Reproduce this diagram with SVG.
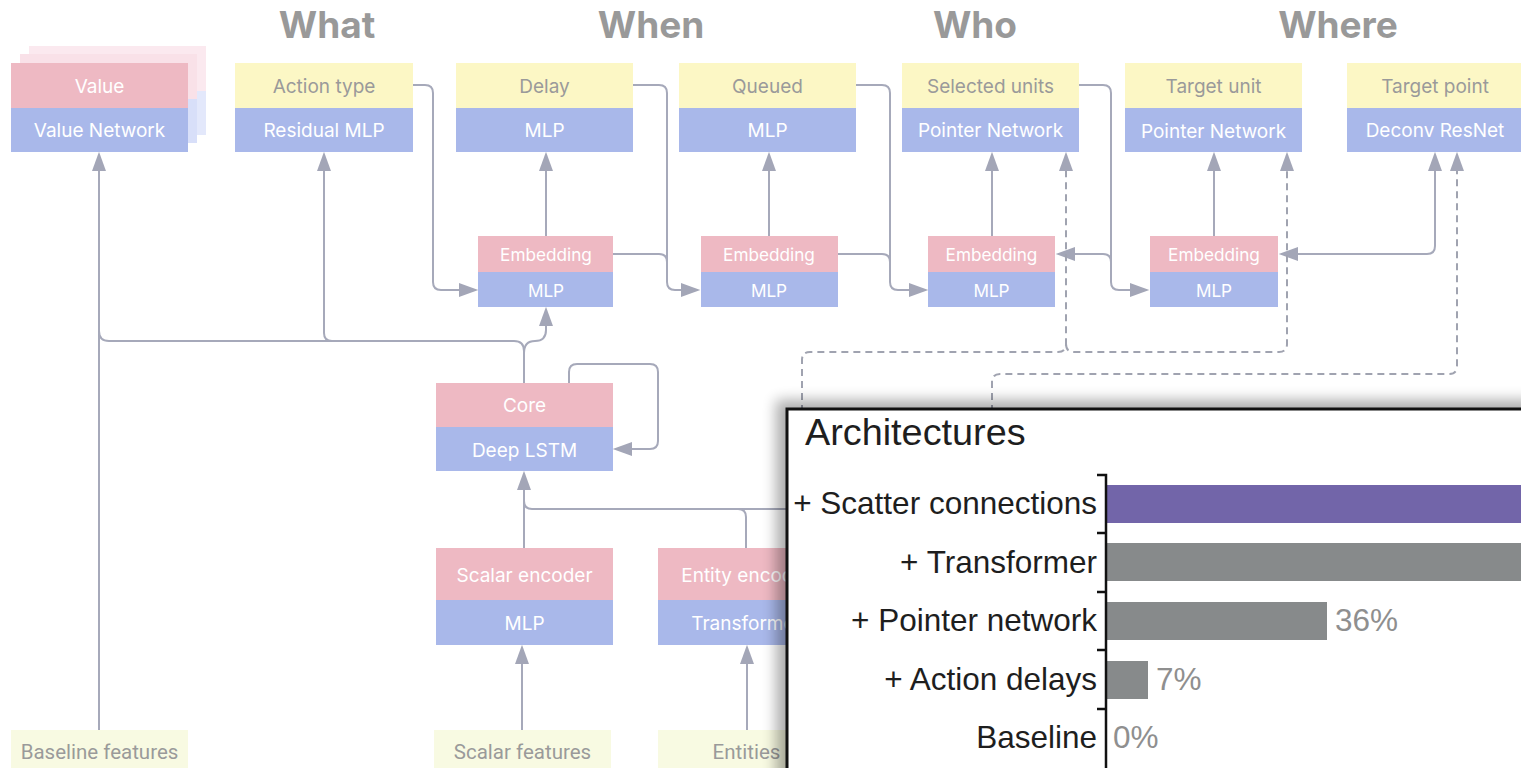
<svg xmlns="http://www.w3.org/2000/svg" width="1521" height="768" viewBox="0 0 1521 768">
<defs>
<style>
.pk{fill:#eeb9c3}
.bl{fill:#a9b8ea}
.yl{fill:#fcf7c5}
.in{fill:#f8fae2}
.wt{font-family:Inter,"Noto Sans",sans-serif;font-size:19px;fill:#ffffff;text-anchor:middle;dominant-baseline:central}
.gt{font-family:Inter,"Noto Sans",sans-serif;font-size:19px;fill:#9a9a9a;text-anchor:middle;dominant-baseline:central}
.st{font-family:Inter,"Noto Sans",sans-serif;font-size:17.2px;fill:#ffffff;text-anchor:middle;dominant-baseline:central}
.it{font-family:Roboto,"Noto Sans",sans-serif;font-size:20.5px;fill:#9a9a9a;text-anchor:middle;dominant-baseline:central}
.ti{font-family:Inter,"Noto Sans",sans-serif;font-size:37px;font-weight:bold;fill:#999999;text-anchor:middle}
.ln{fill:none;stroke:#a6a9ba;stroke-width:2}
.ds{fill:none;stroke:#a0a3b0;stroke-width:2;stroke-dasharray:7 5}
.cl{font-family:"Liberation Sans",Arial,sans-serif;font-size:31.5px;fill:#1e1e1e;text-anchor:end}
.pc{font-family:"Liberation Sans",Arial,sans-serif;font-size:31.5px;fill:#8f8f8f}
</style>
<marker id="ah" markerUnits="userSpaceOnUse" markerWidth="20" markerHeight="14" viewBox="0 0 18 13" refX="14" refY="6.5" orient="auto-start-reverse">
<path d="M0,0 L18,6.5 L0,13 z" fill="#a3a6b7"/>
</marker>
<filter id="blur" x="-10%" y="-10%" width="120%" height="120%">
<feGaussianBlur stdDeviation="7"/>
</filter>
</defs>
<rect width="1521" height="768" fill="#ffffff"/>

<g id="titles">
<text class="ti" x="327" y="38">What</text>
<text class="ti" x="651" y="38">When</text>
<text class="ti" x="975" y="38">Who</text>
<text class="ti" x="1338" y="38">Where</text>
</g>

<g id="connectors">
<path class="ln" d="M99,730 V156" marker-end="url(#ah)"/>
<path class="ln" d="M524,383 V351 Q524,341 514,341 H109 Q99,341 99,331"/>
<path class="ln" d="M332,341 Q324,341 324,333 V156" marker-end="url(#ah)"/>
<path class="ln" d="M524,353 Q524,341 535,341 Q546,341 546,330 V311" marker-end="url(#ah)"/>
<path class="ln" d="M546,236 V156" marker-end="url(#ah)"/>
<path class="ln" d="M769,236 V156" marker-end="url(#ah)"/>
<path class="ln" d="M992,236 V156" marker-end="url(#ah)"/>
<path class="ln" d="M1214,236 V156" marker-end="url(#ah)"/>
<path class="ln" d="M413,85 H425 Q433,85 433,93 V282 Q433,290 441,290 H474" marker-end="url(#ah)"/>
<path class="ln" d="M633,85 H659 Q667,85 667,93 V282 Q667,290 675,290 H696" marker-end="url(#ah)"/>
<path class="ln" d="M613,254 H659 Q667,254 667,262"/>
<path class="ln" d="M856,85 H882 Q890,85 890,93 V282 Q890,290 898,290 H924" marker-end="url(#ah)"/>
<path class="ln" d="M838,254 H882 Q890,254 890,262"/>
<path class="ln" d="M1079,85 H1103 Q1111,85 1111,93 V282 Q1111,290 1119,290 H1145" marker-end="url(#ah)"/>
<path class="ln" d="M1111,262 Q1111,254 1103,254 H1060" marker-end="url(#ah)"/>
<path class="ln" d="M1283,254 H1427 Q1435,254 1435,246 V156" marker-start="url(#ah)" marker-end="url(#ah)"/>
<path class="ln" d="M569,383 V372 Q569,364 577,364 H650 Q658,364 658,372 V441 Q658,449 650,449 H617" marker-end="url(#ah)"/>
<path class="ln" d="M524,548 V475" marker-end="url(#ah)"/>
<path class="ln" d="M524,501 Q524,509 532,509 H792"/>
<path class="ln" d="M738,509 Q746,509 746,517 V548"/>
<path class="ln" d="M522,730 V649" marker-end="url(#ah)"/>
<path class="ln" d="M747,730 V649" marker-end="url(#ah)"/>
<path class="ds" d="M802,412 V360 Q802,352 810,352 H1058 Q1066,352 1066,344 V156" marker-end="url(#ah)"/>
<path class="ds" d="M1066,344 Q1066,352 1074,352 H1279 Q1287,352 1287,344 V156" marker-end="url(#ah)"/>
<path class="ds" d="M992,412 V382 Q992,374 1000,374 H1449 Q1457,374 1457,366 V156" marker-end="url(#ah)"/>
</g>

<g id="value">
<rect x="29" y="46" width="177" height="45" fill="#fbe9ef"/>
<rect x="29" y="91" width="177" height="44" fill="#e3e8fb"/>
<rect x="20" y="54" width="177" height="45" fill="#f9e1e8"/>
<rect x="20" y="99" width="177" height="44" fill="#d8dff9"/>
<rect class="pk" x="11" y="63" width="177" height="45"/>
<rect class="bl" x="11" y="108" width="177" height="44"/>
<text class="wt" x="99.5" y="86">Value</text>
<text class="wt" x="99.5" y="130">Value Network</text>
</g>
<g id="action-type">
<rect class="yl" x="235" y="63" width="178" height="45"/>
<rect class="bl" x="235" y="108" width="178" height="44"/>
<text class="gt" x="324" y="86">Action type</text>
<text class="wt" x="324" y="130">Residual MLP</text>
</g>
<g id="delay">
<rect class="yl" x="456" y="63" width="177" height="45"/>
<rect class="bl" x="456" y="108" width="177" height="44"/>
<text class="gt" x="544.5" y="86">Delay</text>
<text class="wt" x="544.5" y="130">MLP</text>
</g>
<g id="queued">
<rect class="yl" x="679" y="63" width="177" height="45"/>
<rect class="bl" x="679" y="108" width="177" height="44"/>
<text class="gt" x="767.5" y="86">Queued</text>
<text class="wt" x="767.5" y="130">MLP</text>
</g>
<g id="selected-units">
<rect class="yl" x="902" y="63" width="177" height="45"/>
<rect class="bl" x="902" y="108" width="177" height="44"/>
<text class="gt" x="990.5" y="86">Selected units</text>
<text class="wt" x="990.5" y="130">Pointer Network</text>
</g>
<g id="target-unit">
<rect class="yl" x="1125" y="63" width="177" height="45"/>
<rect class="bl" x="1125" y="108" width="177" height="44"/>
<text class="gt" x="1213.5" y="86">Target unit</text>
<text class="wt" x="1213.5" y="131">Pointer Network</text>
</g>
<g id="target-point">
<rect class="yl" x="1347" y="63" width="177" height="45"/>
<rect class="bl" x="1347" y="108" width="177" height="44"/>
<text class="gt" x="1435" y="86">Target point</text>
<text class="wt" x="1435" y="130">Deconv ResNet</text>
</g>

<g id="embedding-1">
<rect class="pk" x="478" y="236" width="135" height="36"/>
<rect class="bl" x="478" y="272" width="135" height="35"/>
<text class="st" x="546" y="254">Embedding</text>
<text class="st" x="546" y="290">MLP</text>
</g>
<g id="embedding-2">
<rect class="pk" x="701" y="236" width="137" height="36"/>
<rect class="bl" x="701" y="272" width="137" height="35"/>
<text class="st" x="769" y="254">Embedding</text>
<text class="st" x="769" y="290">MLP</text>
</g>
<g id="embedding-3">
<rect class="pk" x="928" y="236" width="127" height="36"/>
<rect class="bl" x="928" y="272" width="127" height="35"/>
<text class="st" x="991.5" y="254">Embedding</text>
<text class="st" x="991.5" y="290">MLP</text>
</g>
<g id="embedding-4">
<rect class="pk" x="1150" y="236" width="128" height="36"/>
<rect class="bl" x="1150" y="272" width="128" height="35"/>
<text class="st" x="1214" y="254">Embedding</text>
<text class="st" x="1214" y="290">MLP</text>
</g>

<g id="core">
<rect class="pk" x="436" y="383" width="177" height="44"/>
<rect class="bl" x="436" y="427" width="177" height="44"/>
<text class="wt" x="524.5" y="405">Core</text>
<text class="wt" x="524.5" y="450">Deep LSTM</text>
</g>
<g id="scalar-encoder">
<rect class="pk" x="436" y="548" width="177" height="52"/>
<rect class="bl" x="436" y="600" width="177" height="45"/>
<text class="wt" x="524.5" y="575">Scalar encoder</text>
<text class="wt" x="524.5" y="623">MLP</text>
</g>
<g id="entity-encoder">
<rect class="pk" x="658" y="548" width="177" height="52"/>
<rect class="bl" x="658" y="600" width="177" height="45"/>
<text class="wt" x="746.5" y="575">Entity encoder</text>
<text class="wt" x="746.5" y="623">Transformer</text>
</g>

<g id="baseline-features">
<rect class="in" x="11" y="730" width="177" height="40"/>
<text class="it" x="99.5" y="752">Baseline features</text>
</g>
<g id="scalar-features">
<rect class="in" x="434" y="730" width="177" height="40"/>
<text class="it" x="522.5" y="752">Scalar features</text>
</g>
<g id="entities">
<rect class="in" x="658" y="730" width="177" height="40"/>
<text class="it" x="746.5" y="752">Entities</text>
</g>

<g id="chart">
<rect x="776" y="400" width="800" height="420" fill="#000000" opacity="0.32" filter="url(#blur)"/>
<rect x="787" y="409" width="800" height="400" fill="#ffffff" stroke="#111111" stroke-width="3"/>
<text x="805" y="445" font-family="'Liberation Sans',Arial,sans-serif" font-size="37.8" fill="#1e1e1e">Architectures</text>
<rect x="1106" y="485" width="420" height="38" fill="#7265a9"/>
<rect x="1106" y="543" width="420" height="38" fill="#878a8b"/>
<rect x="1106" y="602" width="221" height="38" fill="#878a8b"/>
<rect x="1106" y="661" width="42" height="38" fill="#878a8b"/>
<path d="M1097,475 H1106 V770 M1097,533 H1106 M1097,592 H1106 M1097,650 H1106 M1097,709 H1106" fill="none" stroke="#111111" stroke-width="2.5"/>
<text class="cl" x="1097" y="514">+ Scatter connections</text>
<text class="cl" x="1097" y="573">+ Transformer</text>
<text class="cl" x="1097" y="631">+ Pointer network</text>
<text class="cl" x="1097" y="690">+ Action delays</text>
<text class="cl" x="1097" y="748">Baseline</text>
<text class="pc" x="1335" y="631">36%</text>
<text class="pc" x="1156" y="690">7%</text>
<text class="pc" x="1113" y="748">0%</text>
</g>
</svg>
